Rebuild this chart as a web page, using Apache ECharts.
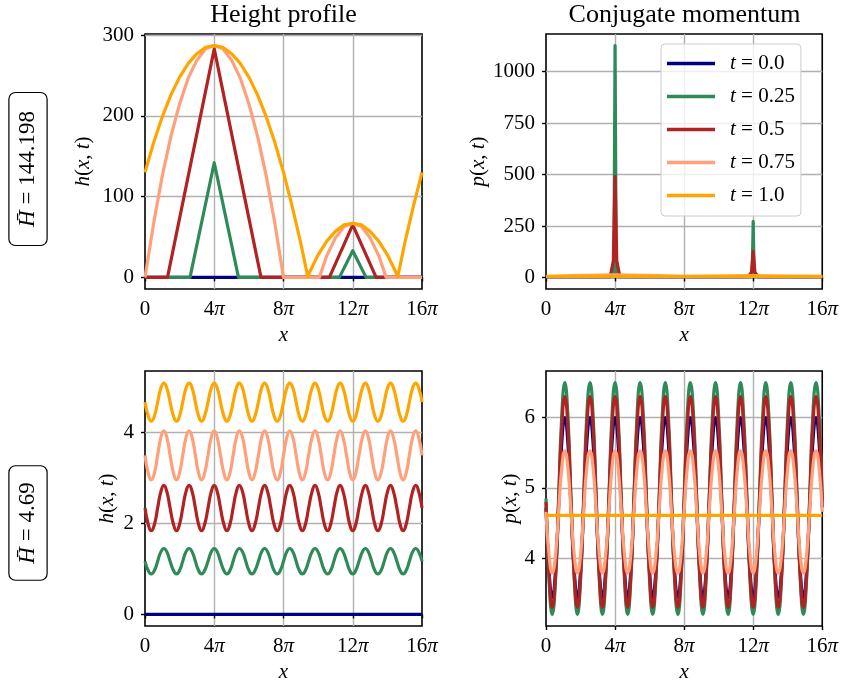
<!DOCTYPE html>
<html>
<head>
<meta charset="UTF-8">
<title></title>
<script src="https://cdn.jsdelivr.net/npm/echarts@6/dist/echarts.min.js"></script>
<style>html,body{margin:0;padding:0;background:#fff;}</style>
</head>
<body>
<div id="main" style="width: 841px; height: 684px;"></div>
<script type="text/javascript">
// legend names and colours
var seriesNames = ['t = 0.0', 't = 0.25', 't = 0.5', 't = 0.75', 't = 1.0'];
var colors = ['#000080', '#2e8b57', '#b22222', '#ffa07a', '#ffa500'];

// tick values (x in units of pi)
var xTicks = [0, 4, 8, 12, 16];
var hTopTicks = [0, 100, 200, 300];
var pTopTicks = [0, 250, 500, 750, 1000];
var hBotTicks = [0, 2, 4];
var pBotTicks = [4, 5, 6];
var hbarValues = ['144.198', '4.69'];

// top row: height profile, [x/pi, h]
var hTop_t000 = [[0, 0], [16, 0]];
var hTop_t025 = [[0, 0], [2.6, 0], [4, 142], [5.4, 0], [11.23, 0], [12, 33], [12.77, 0], [16, 0]];
var hTop_t050 = [[0, 0], [1.3, 0], [4, 283], [6.7, 0], [10.65, 0], [12, 65], [13.35, 0], [16, 0]];
var hTop_t075 = [[0, 0], [0.5, 67], [1, 126], [1.5, 175], [2, 215], [2.5, 247], [3, 269], [3.5, 283], [4, 287],
  [4.5, 283], [5, 269], [5.5, 247], [6, 215], [6.5, 175], [7, 126], [7.5, 67], [8, 0], [10.07, 0],
  [10.5, 27], [11, 49], [11.5, 63], [12, 67], [12.5, 63], [13, 49], [13.5, 27], [13.93, 0], [16, 0]];
var hTop_t100 = [[0, 130], [0.5, 167], [1, 199], [1.5, 226], [2, 248], [2.5, 265], [3, 277], [3.5, 285], [4, 287],
  [4.5, 285], [5, 277], [5.5, 265], [6, 248], [6.5, 226], [7, 199], [7.5, 167], [8, 130], [8.5, 88], [9, 42],
  [9.4, 1], [9.5, 6], [10, 28], [10.5, 45], [11, 57], [11.5, 65], [12, 67], [12.5, 65], [13, 57], [13.5, 45],
  [14, 28], [14.5, 6], [14.6, 1], [15, 42], [15.5, 88], [16, 130]];

// top row: conjugate momentum, [x/pi, p]
var pTop_t000 = [[0, 4], [16, 4]];
var pTop_t025 = [[0, 4], [3.93, 4], [4, 1127], [4.07, 4], [11.94, 4], [12, 272], [12.06, 4], [16, 4]];
var pTop_t050 = [[0, 4], [3.72, 4], [3.9, 80], [4, 490], [4.1, 80], [4.28, 4], [11.72, 4], [11.9, 25], [12, 126],
  [12.1, 25], [12.28, 4], [16, 4]];
var pTop_t075 = [[0, 4], [1.5, 9], [4, 12], [6.5, 9], [8, 4], [11, 7], [12, 9], [13.5, 6], [16, 4]];
var pTop_t100 = [[0, 4.6], [16, 4.6]];

// bottom row: sample positions (x/pi) and values
var xBot = [
  0, 0.18, 0.36, 0.55, 0.73, 0.91, 1.09, 1.27, 1.45, 1.64, 1.82,
  2, 2.18, 2.36, 2.55, 2.73, 2.91, 3.09, 3.27, 3.45, 3.64, 3.82,
  4, 4.18, 4.36, 4.55, 4.73, 4.91, 5.09, 5.27, 5.45, 5.64, 5.82,
  6, 6.18, 6.36, 6.55, 6.73, 6.91, 7.09, 7.27, 7.45, 7.64, 7.82,
  8, 8.18, 8.36, 8.55, 8.73, 8.91, 9.09, 9.27, 9.45, 9.64, 9.82,
  10, 10.18, 10.36, 10.55, 10.73, 10.91, 11.09, 11.27, 11.45, 11.64, 11.82,
  12, 12.18, 12.36, 12.55, 12.73, 12.91, 13.09, 13.27, 13.45, 13.64, 13.82,
  14, 14.18, 14.36, 14.55, 14.73, 14.91, 15.09, 15.27, 15.45, 15.64, 15.82,
  16
];
var hBot_t000 = [[0, 0], [16, 0]];
var hBot_t025 = [
  1.17, 0.97, 0.89, 0.97, 1.17, 1.37, 1.45, 1.37, 1.17, 0.97, 0.89, 0.97, 1.17, 1.37, 1.45, 1.37,
  1.17, 0.97, 0.89, 0.97, 1.17, 1.37, 1.45, 1.37, 1.17, 0.97, 0.89, 0.97, 1.17, 1.37, 1.45, 1.37,
  1.17, 0.97, 0.89, 0.97, 1.17, 1.37, 1.45, 1.37, 1.17, 0.97, 0.89, 0.97, 1.17, 1.37, 1.45, 1.37,
  1.17, 0.97, 0.89, 0.97, 1.17, 1.37, 1.45, 1.37, 1.17, 0.97, 0.89, 0.97, 1.17, 1.37, 1.45, 1.37,
  1.17, 0.97, 0.89, 0.97, 1.17, 1.37, 1.45, 1.37, 1.17, 0.97, 0.89, 0.97, 1.17, 1.37, 1.45, 1.37,
  1.17, 0.97, 0.89, 0.97, 1.17, 1.37, 1.45, 1.37, 1.17
];
var hBot_t050 = [
  2.34, 1.99, 1.84, 1.99, 2.34, 2.69, 2.84, 2.69, 2.34, 1.99, 1.84, 1.99, 2.34, 2.69, 2.84, 2.69,
  2.34, 1.99, 1.84, 1.99, 2.34, 2.69, 2.84, 2.69, 2.34, 1.99, 1.84, 1.99, 2.34, 2.69, 2.84, 2.69,
  2.34, 1.99, 1.84, 1.99, 2.34, 2.69, 2.84, 2.69, 2.34, 1.99, 1.84, 1.99, 2.34, 2.69, 2.84, 2.69,
  2.34, 1.99, 1.84, 1.99, 2.34, 2.69, 2.84, 2.69, 2.34, 1.99, 1.84, 1.99, 2.34, 2.69, 2.84, 2.69,
  2.34, 1.99, 1.84, 1.99, 2.34, 2.69, 2.84, 2.69, 2.34, 1.99, 1.84, 1.99, 2.34, 2.69, 2.84, 2.69,
  2.34, 1.99, 1.84, 1.99, 2.34, 2.69, 2.84, 2.69, 2.34
];
var hBot_t075 = [
  3.50, 3.12, 2.96, 3.12, 3.50, 3.88, 4.04, 3.88, 3.50, 3.12, 2.96, 3.12, 3.50, 3.88, 4.04, 3.88,
  3.50, 3.12, 2.96, 3.12, 3.50, 3.88, 4.04, 3.88, 3.50, 3.12, 2.96, 3.12, 3.50, 3.88, 4.04, 3.88,
  3.50, 3.12, 2.96, 3.12, 3.50, 3.88, 4.04, 3.88, 3.50, 3.12, 2.96, 3.12, 3.50, 3.88, 4.04, 3.88,
  3.50, 3.12, 2.96, 3.12, 3.50, 3.88, 4.04, 3.88, 3.50, 3.12, 2.96, 3.12, 3.50, 3.88, 4.04, 3.88,
  3.50, 3.12, 2.96, 3.12, 3.50, 3.88, 4.04, 3.88, 3.50, 3.12, 2.96, 3.12, 3.50, 3.88, 4.04, 3.88,
  3.50, 3.12, 2.96, 3.12, 3.50, 3.88, 4.04, 3.88, 3.50
];
var hBot_t100 = [
  4.67, 4.37, 4.25, 4.37, 4.67, 4.97, 5.09, 4.97, 4.67, 4.37, 4.25, 4.37, 4.67, 4.97, 5.09, 4.97,
  4.67, 4.37, 4.25, 4.37, 4.67, 4.97, 5.09, 4.97, 4.67, 4.37, 4.25, 4.37, 4.67, 4.97, 5.09, 4.97,
  4.67, 4.37, 4.25, 4.37, 4.67, 4.97, 5.09, 4.97, 4.67, 4.37, 4.25, 4.37, 4.67, 4.97, 5.09, 4.97,
  4.67, 4.37, 4.25, 4.37, 4.67, 4.97, 5.09, 4.97, 4.67, 4.37, 4.25, 4.37, 4.67, 4.97, 5.09, 4.97,
  4.67, 4.37, 4.25, 4.37, 4.67, 4.97, 5.09, 4.97, 4.67, 4.37, 4.25, 4.37, 4.67, 4.97, 5.09, 4.97,
  4.67, 4.37, 4.25, 4.37, 4.67, 4.97, 5.09, 4.97, 4.67
];
var pBot_t000 = [
  4.72, 3.81, 3.44, 3.81, 4.72, 5.63, 6.00, 5.63, 4.72, 3.81, 3.44, 3.81, 4.72, 5.63, 6.00, 5.63,
  4.72, 3.81, 3.44, 3.81, 4.72, 5.63, 6.00, 5.63, 4.72, 3.81, 3.44, 3.81, 4.72, 5.63, 6.00, 5.63,
  4.72, 3.81, 3.44, 3.81, 4.72, 5.63, 6.00, 5.63, 4.72, 3.81, 3.44, 3.81, 4.72, 5.63, 6.00, 5.63,
  4.72, 3.81, 3.44, 3.81, 4.72, 5.63, 6.00, 5.63, 4.72, 3.81, 3.44, 3.81, 4.72, 5.63, 6.00, 5.63,
  4.72, 3.81, 3.44, 3.81, 4.72, 5.63, 6.00, 5.63, 4.72, 3.81, 3.44, 3.81, 4.72, 5.63, 6.00, 5.63,
  4.72, 3.81, 3.44, 3.81, 4.72, 5.63, 6.00, 5.63, 4.72
];
var pBot_t025 = [
  4.85, 3.68, 3.20, 3.68, 4.85, 6.02, 6.50, 6.02, 4.85, 3.68, 3.20, 3.68, 4.85, 6.02, 6.50, 6.02,
  4.85, 3.68, 3.20, 3.68, 4.85, 6.02, 6.50, 6.02, 4.85, 3.68, 3.20, 3.68, 4.85, 6.02, 6.50, 6.02,
  4.85, 3.68, 3.20, 3.68, 4.85, 6.02, 6.50, 6.02, 4.85, 3.68, 3.20, 3.68, 4.85, 6.02, 6.50, 6.02,
  4.85, 3.68, 3.20, 3.68, 4.85, 6.02, 6.50, 6.02, 4.85, 3.68, 3.20, 3.68, 4.85, 6.02, 6.50, 6.02,
  4.85, 3.68, 3.20, 3.68, 4.85, 6.02, 6.50, 6.02, 4.85, 3.68, 3.20, 3.68, 4.85, 6.02, 6.50, 6.02,
  4.85, 3.68, 3.20, 3.68, 4.85, 6.02, 6.50, 6.02, 4.85
];
var pBot_t050 = [
  4.80, 3.74, 3.30, 3.74, 4.80, 5.86, 6.30, 5.86, 4.80, 3.74, 3.30, 3.74, 4.80, 5.86, 6.30, 5.86,
  4.80, 3.74, 3.30, 3.74, 4.80, 5.86, 6.30, 5.86, 4.80, 3.74, 3.30, 3.74, 4.80, 5.86, 6.30, 5.86,
  4.80, 3.74, 3.30, 3.74, 4.80, 5.86, 6.30, 5.86, 4.80, 3.74, 3.30, 3.74, 4.80, 5.86, 6.30, 5.86,
  4.80, 3.74, 3.30, 3.74, 4.80, 5.86, 6.30, 5.86, 4.80, 3.74, 3.30, 3.74, 4.80, 5.86, 6.30, 5.86,
  4.80, 3.74, 3.30, 3.74, 4.80, 5.86, 6.30, 5.86, 4.80, 3.74, 3.30, 3.74, 4.80, 5.86, 6.30, 5.86,
  4.80, 3.74, 3.30, 3.74, 4.80, 5.86, 6.30, 5.86, 4.80
];
var pBot_t075 = [
  4.66, 4.04, 3.79, 4.04, 4.66, 5.28, 5.53, 5.28, 4.66, 4.04, 3.79, 4.04, 4.66, 5.28, 5.53, 5.28,
  4.66, 4.04, 3.79, 4.04, 4.66, 5.28, 5.53, 5.28, 4.66, 4.04, 3.79, 4.04, 4.66, 5.28, 5.53, 5.28,
  4.66, 4.04, 3.79, 4.04, 4.66, 5.28, 5.53, 5.28, 4.66, 4.04, 3.79, 4.04, 4.66, 5.28, 5.53, 5.28,
  4.66, 4.04, 3.79, 4.04, 4.66, 5.28, 5.53, 5.28, 4.66, 4.04, 3.79, 4.04, 4.66, 5.28, 5.53, 5.28,
  4.66, 4.04, 3.79, 4.04, 4.66, 5.28, 5.53, 5.28, 4.66, 4.04, 3.79, 4.04, 4.66, 5.28, 5.53, 5.28,
  4.66, 4.04, 3.79, 4.04, 4.66, 5.28, 5.53, 5.28, 4.66
];
var pBot_t100 = [[0, 4.61], [16, 4.61]];

var FONT = 'Liberation Serif';
var chart = echarts.init(document.getElementById('main'));

function zip(xs, ys) {
  return xs.map(function (x, i) { return [x, ys[i]]; });
}

function lineSeries(k, gi, data, smooth) {
  return {
    name: seriesNames[k], type: 'line', xAxisIndex: gi, yAxisIndex: gi,
    data: data, symbol: 'none', showSymbol: false, smooth: smooth || false,
    lineStyle: { color: colors[k], width: 3.2, join: 'round' },
    itemStyle: { color: colors[k] }, silent: true
  };
}

var italic = { fontStyle: 'italic', fontFamily: FONT, fontSize: 21, color: '#000' };

function xAxisCfg(gi) {
  return {
    type: 'value', gridIndex: gi, min: 0, max: 16, interval: 4,
    name: '{i|x}', nameLocation: 'middle', nameGap: 36,
    nameTextStyle: { fontFamily: FONT, fontSize: 21, color: '#000', rich: { i: italic } },
    axisLine: { show: false },
    axisTick: { length: 4, lineStyle: { color: '#000', width: 1.4 } },
    axisLabel: {
      margin: 10, color: '#000', fontFamily: FONT, fontSize: 21,
      formatter: function (v) { return v === 0 ? '0' : v + '{i|\u03c0}'; },
      rich: { i: italic }
    },
    splitLine: { show: true, showMinLine: false, showMaxLine: false, lineStyle: { color: '#b0b0b0', width: 1.4 } }
  };
}

function yAxisCfg(gi, min, max, ticks, label, gap) {
  return {
    type: 'value', gridIndex: gi, min: min, max: max,
    name: label, nameLocation: 'middle', nameGap: gap,
    nameTextStyle: { fontFamily: FONT, fontSize: 21, color: '#000', rich: { i: italic } },
    axisLine: { show: false },
    axisTick: { customValues: ticks, length: 4, lineStyle: { color: '#000', width: 1.4 } },
    axisLabel: {
      customValues: ticks, margin: 11, color: '#000', fontFamily: FONT, fontSize: 21,
      formatter: function (v) { return String(v); }
    },
    splitLine: { show: true, lineStyle: { color: '#b0b0b0', width: 1.4 } }
  };
}

var gridBase = { show: true, borderColor: '#000', borderWidth: 1.6, backgroundColor: 'transparent' };
var grids = [
  Object.assign({ left: 145, top: 34, width: 277, height: 255 }, gridBase),
  Object.assign({ left: 546, top: 34, width: 277, height: 255 }, gridBase),
  Object.assign({ left: 145, top: 371, width: 277, height: 256 }, gridBase),
  Object.assign({ left: 546, top: 371, width: 277, height: 256 }, gridBase)
];

var hName = '{i|h}({i|x}, {i|t})';
var pName = '{i|p}({i|x}, {i|t})';

var series = [
  lineSeries(0, 0, hTop_t000), lineSeries(1, 0, hTop_t025), lineSeries(2, 0, hTop_t050),
  lineSeries(3, 0, hTop_t075), lineSeries(4, 0, hTop_t100),
  lineSeries(0, 1, pTop_t000), lineSeries(1, 1, pTop_t025), lineSeries(2, 1, pTop_t050),
  lineSeries(3, 1, pTop_t075), lineSeries(4, 1, pTop_t100),
  lineSeries(0, 2, hBot_t000), lineSeries(1, 2, zip(xBot, hBot_t025), true), lineSeries(2, 2, zip(xBot, hBot_t050), true),
  lineSeries(3, 2, zip(xBot, hBot_t075), true), lineSeries(4, 2, zip(xBot, hBot_t100), true),
  lineSeries(0, 3, zip(xBot, pBot_t000), true), lineSeries(1, 3, zip(xBot, pBot_t025), true),
  lineSeries(2, 3, zip(xBot, pBot_t050), true), lineSeries(3, 3, zip(xBot, pBot_t075), true),
  lineSeries(4, 3, pBot_t100)
];

function rowLabel(y, value, pad) {
  return {
    type: 'text', x: 28, y: y, rotation: Math.PI / 2, silent: true,
    style: {
      text: '{i|H\u0304} = ' + value, fontFamily: FONT, fontSize: 23, fill: '#000',
      align: 'center', verticalAlign: 'middle',
      rich: { i: { fontStyle: 'italic', fontFamily: FONT, fontSize: 23 } },
      backgroundColor: '#fff', borderColor: '#000', borderWidth: 1.2, borderRadius: 6,
      padding: pad
    }
  };
}

var option = {
  animation: false,
  backgroundColor: '#fff',
  grid: grids,
  xAxis: [xAxisCfg(0), xAxisCfg(1), xAxisCfg(2), xAxisCfg(3)],
  yAxis: [
    yAxisCfg(0, -14.35, 301.35, hTopTicks, hName, 51),
    yAxisCfg(1, -56.35, 1183.35, pTopTicks, pName, 56),
    yAxisCfg(2, -0.255, 5.355, hBotTicks, hName, 27),
    yAxisCfg(3, 3.035, 6.665, pBotTicks, pName, 25)
  ],
  legend: {
    data: seriesNames, orient: 'vertical', left: 661, top: 44,
    padding: [9, 6, 10, 6], itemGap: 12, itemWidth: 48, itemHeight: 3.5, icon: 'rect',
    selectedMode: false,
    backgroundColor: 'rgba(255,255,255,0.8)', borderColor: '#cccccc', borderWidth: 1, borderRadius: 4,
    formatter: function (name) { return '{i|t} = ' + name.split('= ')[1]; },
    textStyle: {
      fontFamily: FONT, fontSize: 21, color: '#000', lineHeight: 20, padding: [0, 0, 0, 10],
      rich: { i: italic }
    }
  },
  graphic: [
    { type: 'text', x: 283.5, y: 15, silent: true,
      style: { text: 'Height profile', fontFamily: FONT, fontSize: 26, fill: '#000', align: 'center', verticalAlign: 'middle' } },
    { type: 'text', x: 684.5, y: 15, silent: true,
      style: { text: 'Conjugate momentum', fontFamily: FONT, fontSize: 26, fill: '#000', align: 'center', verticalAlign: 'middle' } },
    rowLabel(169, hbarValues[0], [7, 18]),
    rowLabel(523, hbarValues[1], [7, 16])
  ],
  series: series
};

chart.setOption(option);
</script>
</body>
</html>
